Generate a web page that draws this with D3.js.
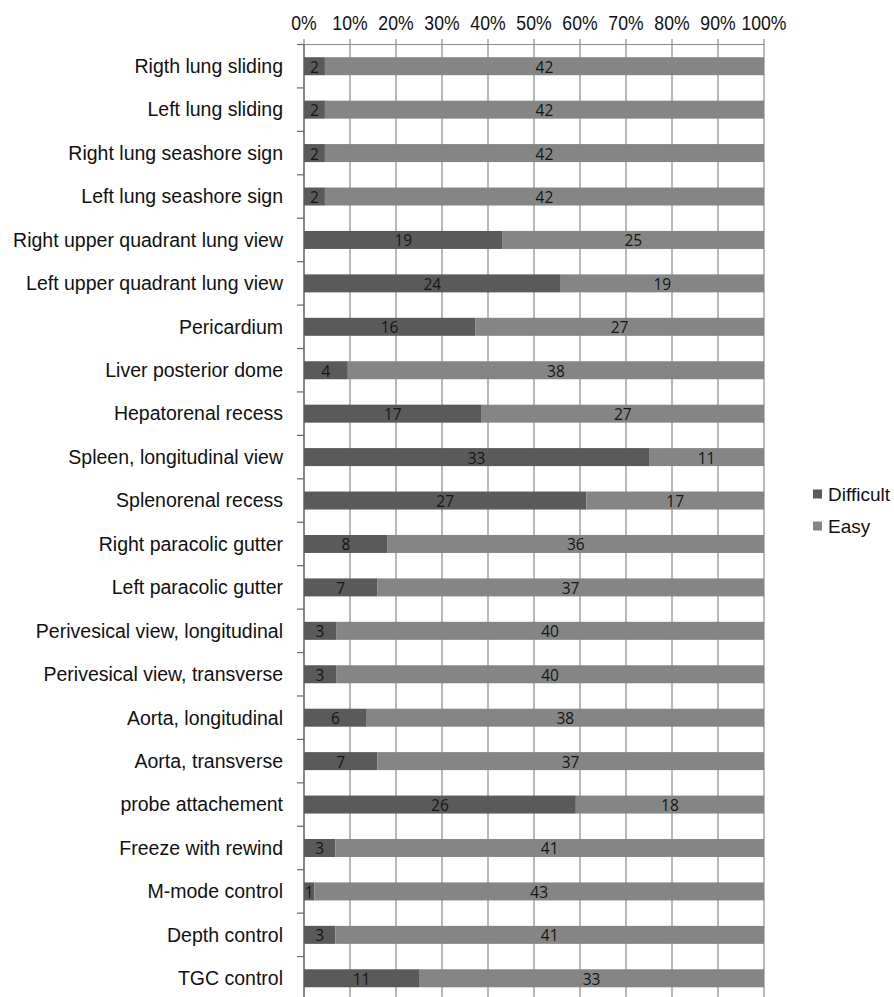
<!DOCTYPE html>
<html><head><meta charset="utf-8">
<script src="https://cdn.jsdelivr.net/npm/d3@7"></script>
<style>body{margin:0;background:#fff}svg{display:block}</style>
</head><body>
<svg id="chart" width="894" height="997"></svg>
<script>
const categories = ["Rigth lung sliding","Left lung sliding","Right lung seashore sign","Left lung seashore sign","Right upper quadrant lung view","Left upper quadrant lung view","Pericardium","Liver posterior dome","Hepatorenal recess","Spleen, longitudinal view","Splenorenal recess","Right paracolic gutter","Left paracolic gutter","Perivesical view, longitudinal","Perivesical view, transverse","Aorta, longitudinal","Aorta, transverse","probe attachement","Freeze with rewind","M-mode control","Depth control","TGC control"];
const difficult = [2,2,2,2,19,24,16,4,17,33,27,8,7,3,3,6,7,26,3,1,3,11];
const easy = [42,42,42,42,25,19,27,38,27,11,17,36,37,40,40,38,37,18,41,43,41,33];
const seriesNames = ["Difficult","Easy"];
const seriesColors = ["#5a5a5a","#858585"];
const tickValues = [0,0.1,0.2,0.3,0.4,0.5,0.6,0.7,0.8,0.9,1];

const svg = d3.select("#chart");
const pLeft = 304, pRight = 764, pTop = 44.5, pBottom = 1000;
const x = d3.scaleLinear().domain([0,1]).range([pLeft,pRight]);
const row = d3.scaleBand().domain(categories).range([pTop,pBottom]).padding(0);
const barH = 18;
const font = "'Liberation Sans', Arial, sans-serif";

// vertical gridlines
svg.append("g").selectAll("line").data(tickValues).join("line")
  .attr("x1",d=>x(d)).attr("x2",d=>x(d)).attr("y1",39).attr("y2",pBottom)
  .attr("stroke","#8a8a8a").attr("stroke-width",1.2);
// top axis line
svg.append("line").attr("x1",pLeft).attr("x2",pRight).attr("y1",pTop).attr("y2",pTop)
  .attr("stroke","#8a8a8a").attr("stroke-width",1.2);
// top tick labels (condensed)
svg.append("g").selectAll("text").data(tickValues).join("text")
  .attr("transform",d=>`translate(${x(d)},29.5) scale(0.84,1)`).attr("text-anchor","middle")
  .attr("font-family",font).attr("font-size",21).attr("fill","#111")
  .text(d=>d3.format(".0%")(d));
// left axis ticks at row boundaries
const bounds = categories.map(c=>row(c)).concat([pBottom]);
svg.append("g").selectAll("line").data(bounds).join("line")
  .attr("x1",pLeft-7).attr("x2",pLeft).attr("y1",d=>d).attr("y2",d=>d)
  .attr("stroke","#666").attr("stroke-width",1.2);
svg.append("line").attr("x1",pLeft).attr("x2",pLeft).attr("y1",pTop).attr("y2",pBottom)
  .attr("stroke","#666").attr("stroke-width",1.2);

// category labels
svg.append("g").selectAll("text").data(categories).join("text")
  .attr("x",283).attr("y",c=>row(c)+row.bandwidth()/2).attr("dy","0.35em")
  .attr("text-anchor","end").attr("font-family",font).attr("font-size",19.5).attr("fill","#111")
  .text(c=>c);

// stacked bars
const rows = categories.map((c,i)=>({cat:c, vals:[difficult[i],easy[i]], total:difficult[i]+easy[i]}));
rows.forEach(r=>{
  let acc = 0;
  r.vals.forEach((v,k)=>{
    const x0 = x(acc/r.total), x1 = x((acc+v)/r.total);
    const yc = row(r.cat)+row.bandwidth()/2;
    svg.append("rect").attr("x",x0).attr("y",yc-barH/2).attr("width",x1-x0).attr("height",barH)
      .attr("fill",seriesColors[k]);
    svg.append("text").attr("x",(x0+x1)/2).attr("y",yc+1).attr("dy","0.35em")
      .attr("text-anchor","middle").attr("font-family","'Open Sans', sans-serif")
      .attr("font-size",15.5).attr("fill","#151515").text(v);
    acc += v;
  });
});

// legend
const lg = svg.append("g");
seriesNames.forEach((n,i)=>{
  const yy = 494 + i*32;
  lg.append("rect").attr("x",813).attr("y",yy-4.5).attr("width",9).attr("height",9).attr("fill",seriesColors[i]);
  lg.append("text").attr("x",828).attr("y",yy).attr("dy","0.35em").attr("font-family",font)
    .attr("font-size",19).attr("fill","#111").text(n);
});
</script>
</body></html>
